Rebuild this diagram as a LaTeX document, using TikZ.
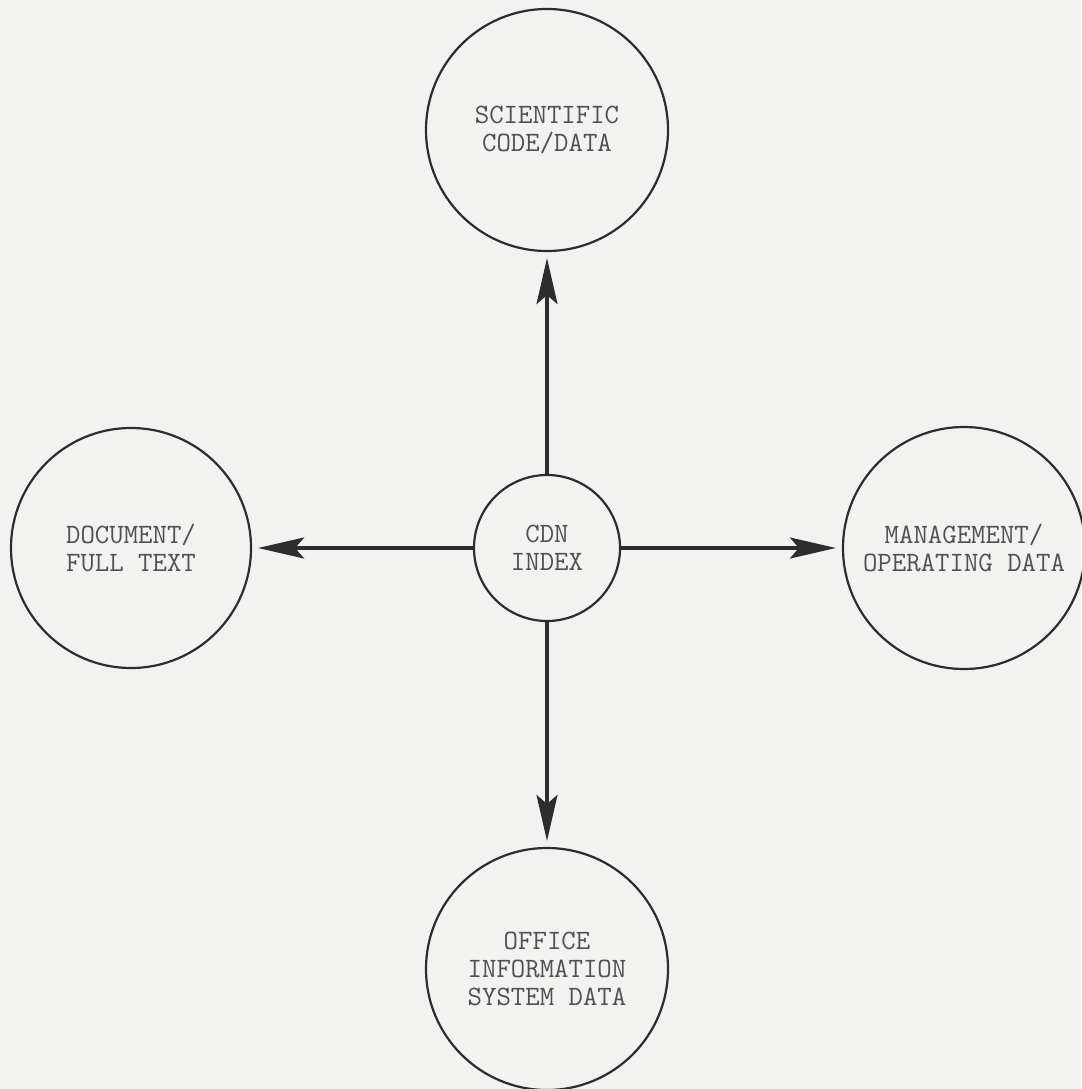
\documentclass[tikz,border=0pt]{standalone}
\usetikzlibrary{arrows.meta}
\definecolor{bgcol}{RGB}{242,242,240}
\definecolor{inkcol}{RGB}{45,45,45}
\definecolor{txtcol}{RGB}{80,80,80}
\begin{document}
\begin{tikzpicture}[x=1pt,y=-1pt,
  bubble/.style={circle,draw=inkcol,line width=2.2pt,inner sep=0pt,
    minimum size=240pt,align=center,text=txtcol,
    font=\fontsize{28}{28}\selectfont\ttfamily},
  hub/.style={bubble,minimum size=146pt},
  arr/.style={draw=inkcol,line width=3.2pt,
    -{Stealth[length=46pt,width=21pt,inset=9pt]},shorten >=6pt}]
\useasboundingbox[fill=bgcol] (0,0) rectangle (1081,1089);
\node[hub] (cdn) at (547,548) {CDN\\INDEX};
\node[bubble,minimum size=242pt] (sci) at (547,130) {SCIENTIFIC\\CODE/DATA};
\node[bubble] (doc) at (131,548) {DOCUMENT/\\FULL TEXT};
\node[bubble,minimum size=242pt] (mgt) at (964,548) {MANAGEMENT/\\OPERATING DATA};
\node[bubble,minimum size=242pt] (ofc) at (547,969) {OFFICE\\INFORMATION\\SYSTEM DATA};
\draw[arr] (cdn.north) -- (sci.south);
\draw[arr] (cdn.west) -- (doc.east);
\draw[arr] (cdn.east) -- (mgt.west);
\draw[arr] (cdn.south) -- (ofc.north);
\end{tikzpicture}
\end{document}
